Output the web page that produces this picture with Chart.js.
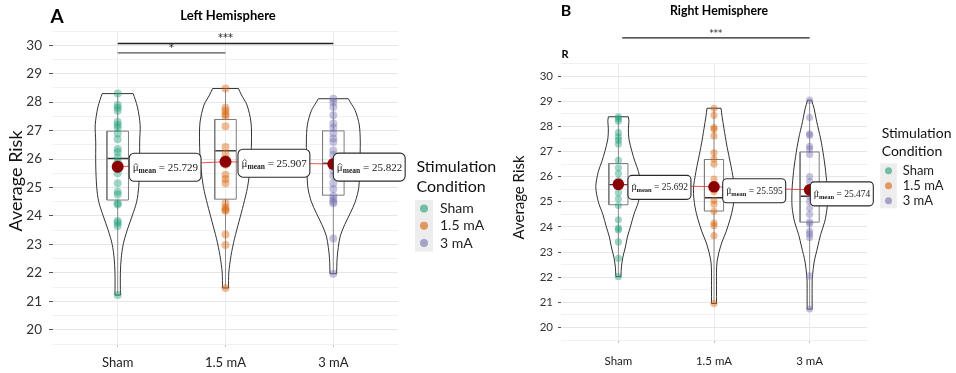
<!DOCTYPE html>
<html>
<head>
<meta charset="utf-8">
<script src="https://cdn.jsdelivr.net/npm/chart.js@4.4.1/dist/chart.umd.min.js"></script>
<style>
  html, body { margin: 0; padding: 0; background: #fff; }
  #wrap { position: relative; width: 956px; height: 373px; overflow: hidden; }
  canvas { position: absolute; top: 0; }
  #left { left: 0; }
  #right { left: 480px; }
</style>
</head>
<body>
<div id="wrap">
  <canvas id="left" width="520" height="373"></canvas>
  <canvas id="right" width="476" height="373"></canvas>
</div>
<script>
const categories = ['Sham', '1.5 mA', '3 mA']
const yTickLabels = [20, 21, 22, 23, 24, 25, 26, 27, 28, 29, 30]
const legendTitle = ['Stimulation', 'Condition']

// left hemisphere, one value per participant
const leftSham = [28.3, 27.9, 27.8, 27.7, 27.3, 27.2, 27.1, 26.9, 26.7, 26.35, 26.25, 26.05, 25.9, 25.65, 25.5, 25.15, 24.85, 24.75, 24.45, 24.4, 23.82, 23.75, 23.65, 21.22]
const leftMid = [28.48, 27.8, 27.7, 27.58, 27.5, 27.15, 26.42, 26.17, 26.0, 25.8, 25.45, 25.3, 25.15, 24.45, 24.3, 24.22, 24.18, 23.35, 22.98, 21.47]
const leftHigh = [28.12, 28.0, 27.83, 27.54, 27.25, 27.1, 26.9, 26.72, 26.6, 26.3, 26.15, 25.6, 25.4, 25.15, 24.95, 24.7, 24.6, 24.5, 24.45, 23.21, 21.97]
const leftMeans = [25.729, 25.907, 25.822]
// [min, q1, median, q3, max]
const leftBoxes = [
  [21.22, 24.56, 26.02, 26.98, 28.3],
  [21.47, 24.59, 26.29, 27.39, 28.48],
  [21.97, 24.73, 25.85, 26.99, 28.12]
]
// violin outline: [value, density] (arbitrary units)
const leftShamViolin = [[21.22, 2.7], [22.0, 2.7], [22.5, 3.5], [23.0, 5.5], [23.5, 9.5], [24.0, 14.5], [24.5, 19], [25.0, 21], [25.8, 22], [26.6, 22], [27.2, 22.5], [27.8, 20], [28.1, 17.5], [28.3, 15.5]]
const leftMidViolin = [[21.47, 3], [22.0, 3.3], [22.6, 5.5], [23.2, 9], [23.8, 13.5], [24.4, 18], [25.0, 22], [25.8, 25], [26.6, 26], [27.3, 25.5], [27.9, 21.5], [28.25, 16], [28.48, 13]]
const leftHighViolin = [[21.97, 3.3], [22.5, 3.8], [22.9, 5], [23.3, 7], [23.7, 11.5], [24.1, 17], [24.5, 22], [25.0, 25.5], [25.8, 26.5], [26.6, 27], [27.2, 26], [27.7, 22], [28.0, 17], [28.12, 15]]
// [from, to, height, stars]
const leftSig = [[1, 2, 29.73, '*'], [1, 3, 30.06, '***']]

// right hemisphere
const rightSham = [28.38, 28.3, 28.2, 27.75, 27.58, 27.45, 27.3, 26.65, 26.35, 26.12, 25.85, 25.6, 25.36, 25.12, 24.85, 24.28, 23.95, 23.88, 23.4, 22.75, 22.02]
const rightMid = [28.72, 28.44, 27.95, 27.88, 27.62, 26.95, 26.7, 26.5, 25.9, 25.6, 25.4, 25.05, 24.9, 24.62, 24.15, 24.05, 23.65, 20.95]
const rightHigh = [29.04, 28.35, 27.7, 27.65, 27.2, 27.1, 26.88, 26.0, 25.8, 25.45, 25.2, 25.0, 24.75, 24.5, 24.2, 24.12, 23.82, 23.72, 23.58, 22.05, 20.73]
const rightMeans = [25.692, 25.595, 25.474]
const rightBoxes = [
  [22.02, 24.88, 25.68, 26.52, 28.38],
  [20.95, 24.63, 25.16, 26.68, 28.72],
  [20.73, 24.19, 25.22, 26.98, 29.04]
]
const rightShamViolin = [[22.02, 2.5], [22.4, 3], [22.8, 4.5], [23.2, 7], [23.6, 9], [24.0, 12], [24.5, 15.5], [25.0, 20], [25.6, 22.5], [26.2, 20], [26.6, 16.5], [27.0, 13.5], [27.5, 10.5], [27.9, 10], [28.2, 10.5], [28.38, 10]]
const rightMidViolin = [[20.95, 2.5], [21.5, 2.5], [22.2, 2.5], [22.6, 3], [23.0, 5], [23.4, 8], [23.8, 12], [24.3, 16], [24.8, 19], [25.5, 20.5], [26.2, 18], [26.7, 15.5], [27.3, 12.5], [27.9, 10], [28.4, 8], [28.72, 7]]
const rightHighViolin = [[20.73, 2.5], [21.3, 2.5], [21.8, 2.5], [22.1, 3], [22.6, 4.5], [23.2, 8], [23.7, 11], [24.2, 15], [24.8, 17.5], [25.5, 17.5], [26.2, 16], [26.8, 14], [27.5, 11], [28.2, 7], [28.7, 4.5], [29.04, 2]]
const rightSig = [[1.04, 3, 31.52, '***']]

const groupRGB = ['27,158,119', '217,95,2', '117,112,179']
const FONT = 'Lato, "Open Sans", sans-serif'

function side(profile, g, k, sign) {
  return profile.map(function(p) { return { x: g + sign * p[1] * k, y: p[0] } })
}

function line(data, color, width, order, tension) {
  return {
    data: data, showLine: true, borderColor: color, borderWidth: width,
    pointRadius: 0, tension: tension || 0, fill: false, order: order
  }
}

function makePanel(id, cfg) {
  var datasets = []
  var maxD = 0
  cfg.violins.forEach(function(v) { v.forEach(function(p) { maxD = Math.max(maxD, p[1]) }) })
  var k = cfg.violinHalf / maxD

  cfg.groups.forEach(function(vals, i) {
    var g = i + 1
    var v = cfg.violins[i]
    var r = side(v, g, k, 1), l = side(v, g, k, -1)
    datasets.push(line(r, '#333', 1, 6, 0.3))
    datasets.push(line(l, '#333', 1, 6, 0.3))
    datasets.push(line([r[0], l[0]], '#333', 1, 6))
    datasets.push(line([r[r.length - 1], l[l.length - 1]], '#333', 1, 6))

    var b = cfg.boxes[i], hw = 0.1
    datasets.push(line([{ x: g, y: b[0] }, { x: g, y: b[1] }], '#8a8a8a', 1, 5))
    datasets.push(line([{ x: g, y: b[3] }, { x: g, y: b[4] }], '#8a8a8a', 1, 5))
    datasets.push(line([
      { x: g - hw, y: b[1] }, { x: g + hw, y: b[1] }, { x: g + hw, y: b[3] },
      { x: g - hw, y: b[3] }, { x: g - hw, y: b[1] }
    ], '#7d7d7d', 1, 5))
    datasets.push(line([{ x: g - hw, y: b[2] }, { x: g + hw, y: b[2] }], '#333', 1.4, 5))

    datasets.push({
      data: vals.map(function(y) { return { x: g, y: y } }),
      pointRadius: cfg.pointR, pointBorderWidth: 0,
      backgroundColor: 'rgba(' + groupRGB[i] + ',0.42)', order: 4
    })
  })

  datasets.push(line(cfg.means.map(function(m, i) { return { x: i + 1, y: m } }), 'rgba(235,40,40,0.8)', 1, 3))
  datasets.push({
    data: cfg.means.map(function(m, i) { return { x: i + 1, y: m } }),
    pointRadius: cfg.meanR, pointBorderWidth: 0, backgroundColor: '#8b0000', order: 2
  })

  var decor = {
    id: 'decor',
    afterDatasetsDraw: function(chart) {
      var ctx = chart.ctx, xs = chart.scales.x, ys = chart.scales.y
      var L = cfg.label
      cfg.means.forEach(function(m, i) {
        var px = xs.getPixelForValue(i + 1), py = ys.getPixelForValue(m)
        var x = px + L.off[i][0], yc = py + L.off[i][1]
        var num = ' = ' + m.toFixed(3)
        ctx.save()
        ctx.font = L.size + 'px "Liberation Serif", serif'
        var wMu = ctx.measureText('\u03bc').width
        var wNum = ctx.measureText(num).width
        ctx.font = 'bold ' + L.sub + 'px "Liberation Serif", serif'
        var wSub = ctx.measureText('mean').width
        var w = L.padL + wMu + wSub + wNum + L.padR
        ctx.beginPath()
        ctx.roundRect(x, yc - L.h / 2, w, L.h, L.r)
        ctx.fillStyle = '#fff'
        ctx.fill()
        ctx.lineWidth = 1.1
        ctx.strokeStyle = '#2a2a2a'
        ctx.stroke()
        var base = yc + L.size * 0.32
        ctx.fillStyle = '#1a1a1a'
        ctx.textBaseline = 'alphabetic'
        ctx.textAlign = 'left'
        ctx.font = L.size + 'px "Liberation Serif", serif'
        var tx = x + L.padL
        ctx.fillText('\u03bc', tx, base)
        // hat over mu
        ctx.beginPath()
        var ht = base - L.size * 0.62
        ctx.moveTo(tx + wMu * 0.15, ht + 1.6)
        ctx.lineTo(tx + wMu * 0.55, ht - 0.4)
        ctx.lineTo(tx + wMu * 0.95, ht + 1.6)
        ctx.lineWidth = 0.7
        ctx.strokeStyle = '#222'
        ctx.stroke()
        ctx.font = 'bold ' + L.sub + 'px "Liberation Serif", serif'
        ctx.fillText('mean', tx + wMu, base + L.size * 0.2)
        ctx.font = L.size + 'px "Liberation Serif", serif'
        ctx.fillText(num, tx + wMu + wSub, base)
        ctx.restore()
      })
    },
    afterDraw: function(chart) {
      var ctx = chart.ctx, xs = chart.scales.x, ys = chart.scales.y
      ctx.save()
      ctx.textBaseline = 'middle'
      ctx.fillStyle = '#000'

      ctx.textAlign = 'center'
      ctx.font = 'bold ' + cfg.title.size + 'px ' + FONT
      ctx.fillText(cfg.title.text, cfg.title.x, cfg.title.y)
      cfg.marks.forEach(function(t) {
        ctx.font = 'bold ' + t.size + 'px ' + FONT
        ctx.fillText(t.text, t.x, t.y)
      })

      // significance bars
      cfg.sig.forEach(function(s) {
        var x1 = xs.getPixelForValue(s[0]), x2 = xs.getPixelForValue(s[1])
        var y = ys.getPixelForValue(s[2])
        ctx.beginPath()
        ctx.moveTo(x1, y)
        ctx.lineTo(x2, y)
        ctx.lineWidth = 1.3
        ctx.strokeStyle = s[3] === '*' ? '#555' : '#222'
        ctx.stroke()
        ctx.fillStyle = '#222'
        ctx.font = cfg.sigSize + 'px "DejaVu Sans", sans-serif'
        ctx.fillText(s[3], (x1 + x2) / 2, y - cfg.sigGap)
      })

      // y axis title
      ctx.save()
      ctx.translate(cfg.yTitle.x, cfg.yTitle.y)
      ctx.rotate(-Math.PI / 2)
      ctx.fillStyle = '#111'
      ctx.font = cfg.yTitle.size + 'px ' + FONT
      ctx.fillText('Average Risk', 0, 0)
      ctx.restore()

      // legend
      var lg = cfg.legend
      ctx.textAlign = 'left'
      ctx.fillStyle = '#111'
      ctx.font = lg.titleSize + 'px ' + FONT
      legendTitle.forEach(function(t, i) { ctx.fillText(t, lg.x, lg.titleY[i]) })
      ctx.fillStyle = '#ededed'
      ctx.fillRect(lg.x - 1.5, lg.top, lg.keyW, lg.row * categories.length)
      categories.forEach(function(c, i) {
        var cy = lg.top + lg.row * (i + 0.5)
        ctx.beginPath()
        ctx.arc(lg.x - 1.5 + lg.keyW / 2, cy, lg.dotR, 0, Math.PI * 2)
        ctx.fillStyle = 'rgba(' + groupRGB[i] + ',0.6)'
        ctx.fill()
        ctx.fillStyle = '#222'
        ctx.font = lg.itemSize + 'px ' + FONT
        ctx.fillText(c, lg.textX, cy)
      })
      ctx.restore()
    }
  }

  new Chart(document.getElementById(id).getContext('2d'), {
    type: 'scatter',
    data: { datasets: datasets },
    options: {
      responsive: false,
      animation: false,
      events: [],
      layout: { padding: cfg.padding },
      plugins: { legend: { display: false }, tooltip: { enabled: false } },
      scales: {
        x: {
          type: 'linear', min: 0.4, max: 3.6,
          afterBuildTicks: function(s) { s.ticks = categories.map(function(c, i) { return { value: i + 1 } }) },
          afterFit: function(s) { s.height = cfg.xHeight },
          border: { display: false },
          grid: { color: '#ebebeb', tickColor: '#bbb', tickLength: 3 },
          ticks: {
            autoSkip: false, maxRotation: 0, padding: cfg.xPad, color: '#222',
            font: { family: FONT, size: cfg.xFont },
            callback: function(v) { return categories[v - 1] }
          }
        },
        y: {
          min: 19.5, max: 30.5,
          afterFit: function(s) { s.width = cfg.yWidth },
          border: { display: false },
          grid: {
            color: function(c) { return c.tick && Number.isInteger(c.tick.value) ? '#e6e6e6' : '#f0f0f0' },
            tickColor: function(c) { return c.tick && Number.isInteger(c.tick.value) ? '#555' : 'rgba(0,0,0,0)' },
            tickLength: cfg.tickLen
          },
          ticks: {
            stepSize: 0.5, autoSkip: false, padding: cfg.yPad, color: '#333',
            font: { family: FONT, size: cfg.yFont },
            callback: function(v) { return yTickLabels.indexOf(v) >= 0 ? String(v) : '' }
          }
        }
      }
    },
    plugins: [decor]
  })
}

makePanel('left', {
  groups: [leftSham, leftMid, leftHigh],
  means: leftMeans, boxes: leftBoxes,
  violins: [leftShamViolin, leftMidViolin, leftHighViolin],
  sig: leftSig,
  violinHalf: 0.25,
  padding: { left: 0, top: 31, right: 122, bottom: 0 },
  yWidth: 53, xHeight: 29, yFont: 13.5, xFont: 13, tickLen: 4, yPad: 7, xPad: 8,
  pointR: 4, meanR: 6,
  label: { size: 11, sub: 7.5, h: 28, r: 5, padL: 3.5, padR: 3, off: [[11.5, 0.5], [12.5, 1.5], [0, 3]] },
  title: { text: 'Left Hemisphere', x: 228, y: 16, size: 13 },
  marks: [{ text: 'A', x: 57, y: 16.5, size: 19 }],
  sigSize: 10, sigGap: 5,
  yTitle: { x: 16, y: 181, size: 18 },
  legend: { x: 416.5, titleY: [166.7, 187.3], titleSize: 16, top: 200, row: 17.2, keyW: 18, dotR: 4, itemSize: 14, textX: 440 }
})

makePanel('right', {
  groups: [rightSham, rightMid, rightHigh],
  means: rightMeans, boxes: rightBoxes,
  violins: [rightShamViolin, rightMidViolin, rightHighViolin],
  sig: rightSig,
  violinHalf: 0.236,
  padding: { left: 0, top: 63.5, right: 89, bottom: 0 },
  yWidth: 81, xHeight: 33, yFont: 11.5, xFont: 11.5, tickLen: 3, yPad: 5, xPad: 11,
  pointR: 3.6, meanR: 5.8,
  label: { size: 9.5, sub: 6.5, h: 24, r: 4, padL: 3.5, padR: 3, off: [[9.6, 3], [8.7, 4], [0.7, 4]] },
  title: { text: 'Right Hemisphere', x: 719 - 480, y: 11.3, size: 12.3 },
  marks: [{ text: 'B', x: 86, y: 11, size: 16 }, { text: 'R', x: 85, y: 54, size: 11 }],
  sigSize: 8.5, sigGap: 4.5,
  yTitle: { x: 39, y: 197.5, size: 15 },
  legend: { x: 401.7, titleY: [133.7, 151.7], titleSize: 14, top: 163.3, row: 15, keyW: 16.6, dotR: 3.5, itemSize: 13, textX: 422.7 }
})
</script>
</body>
</html>
